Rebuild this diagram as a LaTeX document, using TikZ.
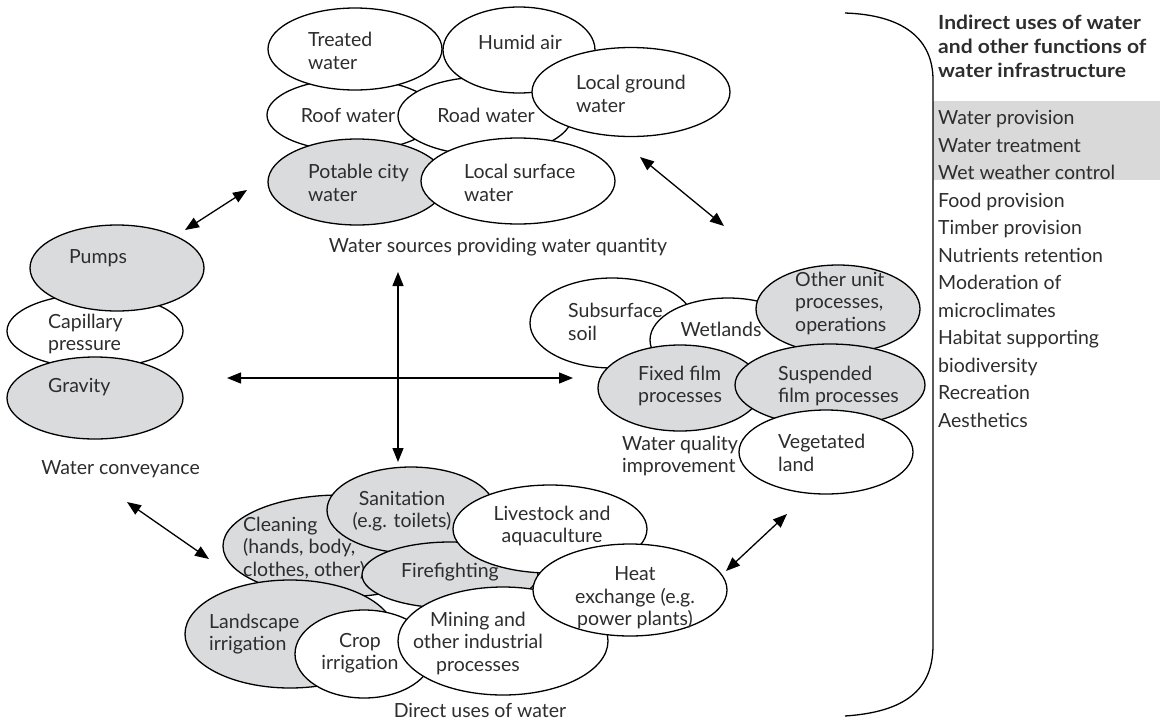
\documentclass[tikz,border=0pt]{standalone}
\usepackage{fontspec}
\setmainfont{Lato}
\usetikzlibrary{shapes.geometric,arrows.meta}
\definecolor{ellgray}{RGB}{218,219,221}
\definecolor{bandgray}{RGB}{217,217,217}
\definecolor{txtc}{RGB}{45,45,45}
\tikzset{
  ell/.style={ellipse, draw=black, line width=1.3pt, fill=white, inner sep=0pt},
  gell/.style={ell, fill=ellgray},
  lab/.style={text=txtc, font=\fontsize{19.5}{22.5}\selectfont, inner sep=0pt, align=left},
  labc/.style={lab, align=center},
  arr/.style={line width=1.3pt, {Triangle[length=14pt,width=11pt]}-{Triangle[length=14pt,width=11pt]}},
}
\begin{document}
\begin{tikzpicture}[x=1pt,y=-1pt]
\useasboundingbox (0,0) rectangle (1167,721);
% ---------- top cluster: water sources
\node[ell, minimum width=170pt, minimum height=72pt] (roof) at (352,115) {};
\node[lab] (roofT) at (348,115) {Roof water};
\node[ell, minimum width=174pt, minimum height=78pt] (road) at (485,116) {};
\node[lab] (roadT) at (486,115) {Road water};
\node[ell, minimum width=174pt, minimum height=82pt] (treated) at (355,49) {};
\node[lab, anchor=west] (treatedT) at (308,51) {Treated\\water};
\node[ell, minimum width=152pt, minimum height=86pt] (humid) at (519,50) {};
\node[lab] (humidT) at (520,42) {Humid air};
\node[ell, minimum width=198pt, minimum height=89pt] (ground) at (631,92) {};
\node[lab, anchor=west] (groundT) at (576,94) {Local ground\\water};
\node[gell, minimum width=178pt, minimum height=86pt] (potable) at (357,182) {};
\node[lab, anchor=west] (potableT) at (308,183) {Potable city\\water};
\node[ell, minimum width=194pt, minimum height=86pt] (surface) at (518,181) {};
\node[lab, anchor=west] (surfaceT) at (464,183) {Local surface\\water};
\node[lab] (srcL) at (498,247) {Water sources providing water quantity};
% ---------- left cluster: conveyance
\node[ell, minimum width=176pt, minimum height=74pt] (cap) at (95,331) {};
\node[lab, anchor=west] (capT) at (48,334) {Capillary\\pressure};
\node[gell, minimum width=174pt, minimum height=86pt] (pumps) at (117,268) {};
\node[lab] (pumpsT) at (98,258) {Pumps};
\node[gell, minimum width=176pt, minimum height=82pt] (gravity) at (95,398) {};
\node[lab, anchor=west] (gravityT) at (48,387) {Gravity};
\node[lab, anchor=east] (convL) at (200,469) {Water conveyance};
% ---------- right cluster: quality improvement
\node[ell, minimum width=164pt, minimum height=90pt] (subsoil) at (612,323) {};
\node[lab, anchor=west] (subsoilT) at (568,322) {Subsurface\\soil};
\node[ell, minimum width=156pt, minimum height=84pt] (wet) at (728,340) {};
\node[lab] (wetT) at (721,329) {Wetlands};
\node[gell, minimum width=164pt, minimum height=88pt] (other) at (838,309) {};
\node[lab, anchor=west] (otherT) at (795,303) {Other unit\\processes,\\operations};
\node[gell, minimum width=164pt, minimum height=86pt] (fixed) at (680,388) {};
\node[lab, anchor=west] (fixedT) at (638,386) {Fixed film\\processes};
\node[gell, minimum width=190pt, minimum height=82pt] (susp) at (830,385) {};
\node[lab, anchor=west] (suspT) at (778,386) {Suspended\\film processes};
\node[ell, minimum width=174pt, minimum height=84pt] (veg) at (826,452) {};
\node[lab, anchor=west] (vegT) at (778,453) {Vegetated\\land};
\node[lab, anchor=west] (wqL) at (622,456) {Water quality\\improvement};
% ---------- bottom cluster: direct uses
\node[gell, minimum width=234pt, minimum height=102pt] (clean) at (340,546) {};
\node[lab, anchor=west] (cleanT) at (243,548) {Cleaning\\(hands, body,\\clothes, other)};
\node[gell, minimum width=168pt, minimum height=86pt] (sanit) at (411,510) {};
\node[labc] (sanitT) at (402,511) {Sanitation\\(e.g. toilets)};
\node[gell, minimum width=176pt, minimum height=66pt] (fire) at (450,575) {};
\node[lab] (fireT) at (450,572) {Firefighting};
\node[ell, minimum width=194pt, minimum height=88pt] (live) at (550,529) {};
\node[labc] (liveT) at (552,526) {Livestock and\\aquaculture};
\node[gell, minimum width=210pt, minimum height=108pt] (land) at (290,634) {};
\node[lab, anchor=west] (landT) at (209,634) {Landscape\\irrigation};
\node[ell, minimum width=138pt, minimum height=88pt] (crop) at (364,654) {};
\node[labc] (cropT) at (360,653) {Crop\\irrigation};
\node[ell, minimum width=210pt, minimum height=108pt] (mining) at (503,641) {};
\node[labc] (miningT) at (478,643) {Mining and\\other industrial\\processes};
\node[ell, minimum width=194pt, minimum height=92pt] (heat) at (630,590) {};
\node[labc] (heatT) at (635,598) {Heat\\exchange (e.g.\\power plants)};
\node[lab] (directL) at (480,710) {Direct uses of water};
% ---------- arrows
\coordinate (a1s) at (185,230); \coordinate (a1e) at (247,190);
\coordinate (a2s) at (640,157); \coordinate (a2e) at (724,226);
\coordinate (a3s) at (398,272); \coordinate (a3e) at (398,462);
\coordinate (a4s) at (227,378); \coordinate (a4e) at (573,378);
\coordinate (a5s) at (127,502); \coordinate (a5e) at (209,559);
\coordinate (a6s) at (726,571); \coordinate (a6e) at (787,514);
\draw[arr] (a1s) -- (a1e);
\draw[arr] (a2s) -- (a2e);
\draw[arr] (a3s) -- (a3e);
\draw[arr] (a4s) -- (a4e);
\draw[arr] (a5s) -- (a5e);
\draw[arr] (a6s) -- (a6e);
% ---------- right panel
\fill[bandgray] (933,101) rectangle (1160,180);
\coordinate (b1) at (845,13); \coordinate (b2) at (845,716);
\draw[line width=1.3pt] (b1) .. controls (905,15) and (933,40) .. (933,80) -- (933,645) .. controls (933,690) and (905,712) .. (b2);
\node[lab, anchor=west, font=\bfseries\fontsize{19.5}{24}\selectfont\addfontfeature{FakeStretch=1.08}] (head) at (938,46) {Indirect uses of water\\and other functions of\\water infrastructure};
\node[lab, anchor=west, font=\fontsize{19.5}{27.5}\selectfont] (list) at (938,269) {Water provision\\Water treatment\\Wet weather control\\Food provision\\Timber provision\\Nutrients retention\\Moderation of\\microclimates\\Habitat supporting\\biodiversity\\Recreation\\Aesthetics};
\end{tikzpicture}
\end{document}
